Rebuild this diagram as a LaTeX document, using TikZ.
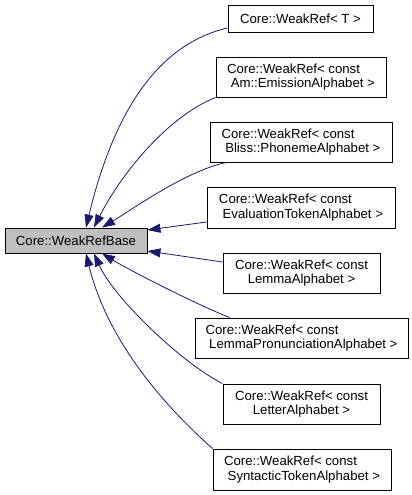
\documentclass[tikz,border=0pt]{standalone}
\usepackage{fontspec}
\setmainfont{Liberation Sans}
\usetikzlibrary{arrows.meta}
\definecolor{edgeBlue}{RGB}{25, 25, 112}
\definecolor{baseGrey}{RGB}{191, 191, 191}

\begin{document}
\begin{tikzpicture}[x=1pt, y=-1pt,
    cls/.style={draw=black, line width=0.9pt, fill=white, inner sep=0pt,
      font=\fontsize{13.2pt}{14.5pt}\selectfont, align=left},
    inherit/.style={draw=edgeBlue, line width=0.8pt,
      -{Triangle[length=13pt, width=9pt]}}]
  \useasboundingbox (0,0) rectangle (412,495);
  % Base class
  \node[cls, fill=baseGrey, minimum width=142pt, minimum height=25pt] (base) at (76,240.5) {Core::WeakRefBase};
  % Derived classes
  \node[cls, minimum width=145pt, minimum height=27pt] (refT) at (300.5,18.5) {Core::WeakRef\textless{} T \textgreater};
  \node[cls, minimum width=170pt, minimum height=40pt] (refAm) at (301,77)
    {Core::WeakRef\textless{} const\\\hspace*{0.28em}Am::EmissionAlphabet \textgreater};
  \node[cls, minimum width=182pt, minimum height=40pt] (refBliss) at (301,142)
    {Core::WeakRef\textless{} const\\\hspace*{0.28em}Bliss::PhonemeAlphabet \textgreater};
  \node[cls, minimum width=188pt, minimum height=41pt] (refEval) at (301,207.5)
    {Core::WeakRef\textless{} const\\\hspace*{0.28em}EvaluationTokenAlphabet \textgreater};
  \node[cls, align=center, minimum width=157pt, minimum height=40pt] (refLemma) at (301.5,273)
    {Core::WeakRef\textless{} const\\LemmaAlphabet \textgreater};
  \node[cls, minimum width=213pt, minimum height=40pt] (refPron) at (301.5,338)
    {Core::WeakRef\textless{} const\\\hspace*{0.28em}LemmaPronunciationAlphabet \textgreater};
  \node[cls, align=center, minimum width=157pt, minimum height=40pt] (refLetter) at (301.5,404)
    {Core::WeakRef\textless{} const\\LetterAlphabet \textgreater};
  \node[cls, minimum width=178pt, minimum height=41pt] (refSynt) at (302,469.5)
    {Core::WeakRef\textless{} const\\\hspace*{0.28em}SyntacticTokenAlphabet \textgreater};
  % Inheritance edges
  \draw[inherit] ([yshift=-9.5pt]refT.west) .. controls +(-78,18) and +(24,-100) .. ([xshift=10pt]base.north);
  \draw[inherit] (refAm.south west) .. controls +(-50,20) and +(25,-50) .. ([xshift=18pt]base.north);
  \draw[inherit] ([xshift=17pt]refBliss.south west) .. controls +(-40,8) and +(30,-18) .. ([xshift=26pt]base.north);
  \draw[inherit] ([yshift=-14.5pt]refEval.west) -- ([yshift=10.5pt]base.east);
  \draw[inherit] ([yshift=11pt]refLemma.west) -- ([yshift=-10.5pt]base.east);
  \draw[inherit] ([xshift=35pt]refPron.north west) .. controls +(-35,-14) and +(28,17) .. ([xshift=26pt]base.south);
  \draw[inherit] (refLetter.north west) .. controls +(-40,-20) and +(20,45) .. ([xshift=18pt]base.south);
  \draw[inherit] (refSynt.north west) .. controls +(-45,-40) and +(22,90) .. ([xshift=10pt]base.south);
\end{tikzpicture}
\end{document}
